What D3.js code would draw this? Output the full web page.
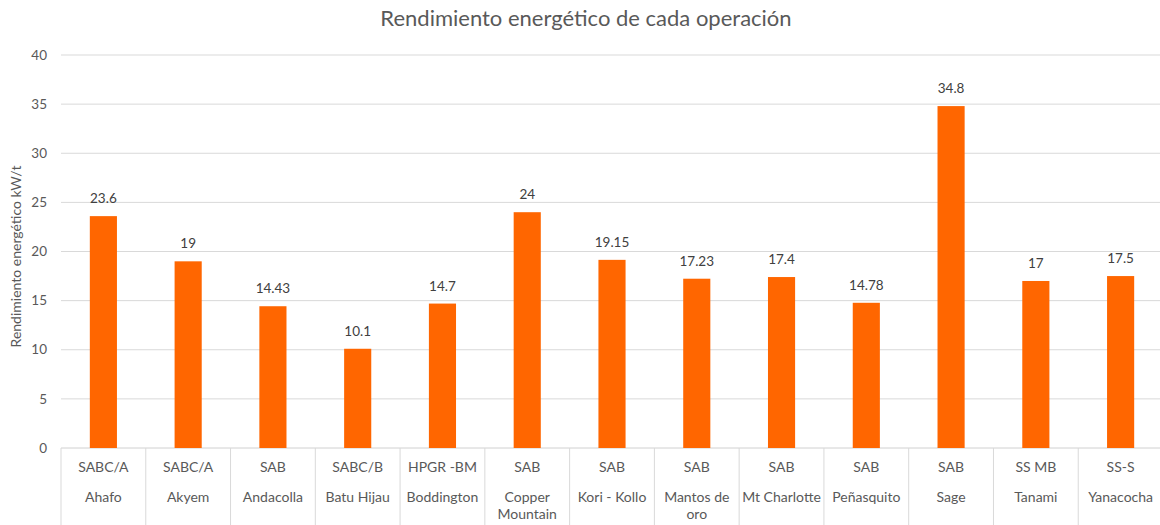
<!DOCTYPE html>
<html>
<head>
<meta charset="utf-8">
<script src="https://cdn.jsdelivr.net/npm/d3@7"></script>
<style>
  body { margin: 0; background: #fff; }
  svg text { font-family: Lato, 'Open Sans', sans-serif; fill: #595959; }
</style>
</head>
<body>
<div id="chart"></div>
<script>
const operations = ['Ahafo', 'Akyem', 'Andacolla', 'Batu Hijau', 'Boddington', 'Copper Mountain',
  'Kori - Kollo', 'Mantos de oro', 'Mt Charlotte', 'Peñasquito', 'Sage', 'Tanami', 'Yanacocha'];
const circuits = ['SABC/A', 'SABC/A', 'SAB', 'SABC/B', 'HPGR -BM', 'SAB',
  'SAB', 'SAB', 'SAB', 'SAB', 'SAB', 'SS MB', 'SS-S'];
const values = [23.6, 19, 14.43, 10.1, 14.7, 24, 19.15, 17.23, 17.4, 14.78, 34.8, 17, 17.5];
const valueLabels = ['23.6', '19', '14.43', '10.1', '14.7', '24', '19.15', '17.23', '17.4', '14.78', '34.8', '17', '17.5'];
const yTicks = [0, 5, 10, 15, 20, 25, 30, 35, 40];

const W = 1160, H = 525;
const margin = { top: 55, left: 61, bottom: 77 };
const plotRight = 1163;
const y0 = H - margin.bottom; // 448

const svg = d3.select('#chart').append('svg')
  .attr('width', W).attr('height', H);

const x = d3.scaleBand()
  .domain(d3.range(operations.length))
  .range([margin.left, plotRight])
  .paddingInner(0.68).paddingOuter(0.34);

const y = d3.scaleLinear().domain([0, 40]).range([y0, margin.top]);

// gridlines
svg.append('g')
  .selectAll('line')
  .data(yTicks)
  .enter().append('line')
  .attr('x1', margin.left).attr('x2', plotRight)
  .attr('y1', d => y(d)).attr('y2', d => y(d))
  .attr('stroke', d => d === 0 ? '#d0d0d0' : '#d9d9d9')
  .attr('stroke-width', 1);

// y axis tick labels
svg.append('g')
  .selectAll('text')
  .data(yTicks)
  .enter().append('text')
  .attr('x', 47).attr('y', d => y(d))
  .attr('dy', '0.35em')
  .attr('text-anchor', 'end')
  .style('font-size', '13.5px')
  .text(d => d);

// bars
svg.append('g')
  .selectAll('rect')
  .data(values)
  .enter().append('rect')
  .attr('x', (d, i) => x(i))
  .attr('width', x.bandwidth())
  .attr('y', d => y(d))
  .attr('height', d => y0 - y(d))
  .attr('fill', '#ff6600');

// value labels
svg.append('g')
  .selectAll('text')
  .data(values)
  .enter().append('text')
  .attr('x', (d, i) => x(i) + x.bandwidth() / 2)
  .attr('y', d => y(d) - 13)
  .attr('text-anchor', 'middle')
  .style('font-size', '13.5px')
  .style('fill', '#404040')
  .text((d, i) => valueLabels[i]);

// category separators (multi-level axis)
const step = x.step();
const edges = d3.range(operations.length + 1).map(i => margin.left + i * step);
svg.append('g')
  .selectAll('line')
  .data(edges)
  .enter().append('line')
  .attr('x1', d => d).attr('x2', d => d)
  .attr('y1', y0).attr('y2', H)
  .attr('stroke', '#d9d9d9');

// circuit labels (first level)
const cx = i => x(i) + x.bandwidth() / 2;
svg.append('g')
  .selectAll('text')
  .data(circuits)
  .enter().append('text')
  .attr('x', (d, i) => cx(i))
  .attr('y', 472)
  .attr('text-anchor', 'middle')
  .style('font-size', '14px')
  .text(d => d);

// operation labels (second level, wrapped)
const wrapped = { 'Copper Mountain': ['Copper', 'Mountain'], 'Mantos de oro': ['Mantos de', 'oro'] };
const opText = svg.append('g')
  .selectAll('text')
  .data(operations)
  .enter().append('text')
  .attr('x', (d, i) => cx(i))
  .attr('y', 502)
  .attr('text-anchor', 'middle')
  .style('font-size', '14px');
opText.each(function (d, i) {
  const lines = wrapped[d] || [d];
  d3.select(this).selectAll('tspan')
    .data(lines)
    .enter().append('tspan')
    .attr('x', cx(i))
    .attr('dy', (l, k) => k === 0 ? 0 : 17)
    .text(l => l);
});

// title
svg.append('text')
  .attr('x', 586).attr('y', 26)
  .attr('text-anchor', 'middle')
  .style('font-size', '22px')
  .text('Rendimiento energético de cada operación');

// y axis title
svg.append('text')
  .attr('transform', `translate(21,${(y(40) + y0) / 2 + 5}) rotate(-90)`)
  .attr('text-anchor', 'middle')
  .style('font-size', '14px')
  .text('Rendimiento energético kW/t');
</script>
</body>
</html>
